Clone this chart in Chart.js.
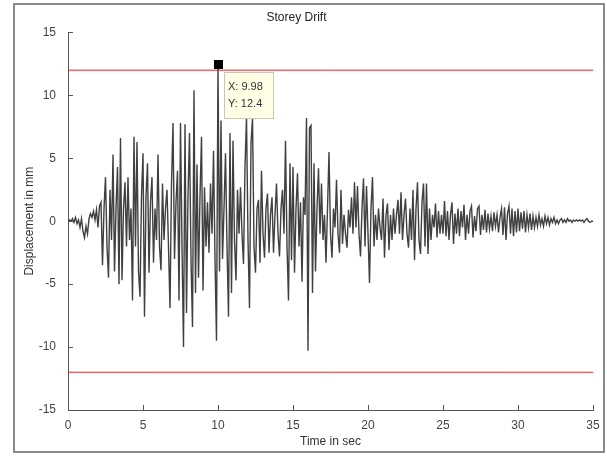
<!DOCTYPE html>
<html>
<head>
<meta charset="utf-8">
<script src="https://cdn.jsdelivr.net/npm/chart.js@4"></script>
<style>
  html, body { margin:0; padding:0; background:#fff; }
  #wrap { position:relative; width:607px; height:457px; }
</style>
</head>
<body>
<div id="wrap"><canvas id="chart" width="607" height="457"></canvas></div>
<script>
// data
const dt = 0.1; // sample step, sec
// displacement (mm), one row per second
const disp = [
  0, 0.1, 0, 0.2, -0.1, 0.3, -0.2, 0.1, -0.5, 0.2,
  -0.8, -1.3, -0.4, -1.0, 0.2, 0.6, 0.3, 0.8, 0.1, 0.9,
  -0.5, 1.2, 1.5, -3.5, 1.0, 3.5, -2.0, -4.5, 2.5, -1.5,
  5.3, -4.0, 1.0, 4.3, -5.0, 6.6, -4.7, 1.0, 3.1, -2.0,
  3.5, -1.5, 1.0, -6.3, 6.7, -2.0, 6.3, -4.0, -6.0, 2.0,
  5.4, -7.6, 2.0, 4.6, -4.1, 1.5, 3.5, -3.3, 1.0, -1.5,
  5.3, -2.0, -3.9, 3.0, -1.5, 1.0, 2.5, -2.0, -6.9, 3.0,
  7.8, -3.0, 1.5, 4.0, -6.3, 7.8, -2.0, -10.0, 7.7, -7.3,
  2.0, 7.0, -3.0, -8.4, 10.4, -5.7, 4.5, -4.5, 2.0, 6.7,
  -5.5, 2.7, -2.0, 1.5, -2.5, 3.0, -1.0, 5.6, -3.0, -9.5,
  12.4, -4.0, 8.0, -3.0, 1.0, 5.4, -2.0, -7.6, 7.0, -5.7,
  6.4, -1.5, -4.7, 2.5, -1.0, 2.7, -1.0, -3.4, 4.3, 8.3,
  -1.5, -6.9, 6.2, 8.2, -2.0, -4.1, 1.0, 1.7, -3.3, 4.0,
  -1.0, -2.9, 1.0, 2.2, -2.5, 0.5, 1.9, -2.5, 0.5, 3.0,
  -1.0, -2.8, 1.0, 2.5, -1.0, 6.4, -2.0, -6.3, 4.6, -3.1,
  4.3, -4.1, 1.0, 3.8, -2.0, 1.5, -4.8, 1.9, 0.5, 8.2,
  -10.3, 7.4, 7.6, -5.7, 4.6, -4.0, 1.0, 4.2, -1.0, 3.0,
  -1.5, 0.5, -3.3, 1.0, 5.5, -1.0, -2.9, 1.0, -0.5, 3.3,
  -1.0, -2.5, 2.5, -1.8, 0.5, -1.0, -2.1, 0.9, -0.5, 1.9,
  -1.0, 3.1, -0.5, 2.8, -1.0, -2.8, 1.0, 3.4, -2.0, 2.8,
  -1.0, -4.9, 1.0, 3.5, -2.0, 0.5, -1.5, 1.0, -0.5, -1.5,
  1.8, -2.9, 0.5, 1.4, -2.3, 0.5, -1.5, 1.0, -1.0, 0.5,
  1.7, -1.0, 2.3, -1.5, 0.5, 1.8, -1.0, -2.1, 1.0, -1.5,
  2.5, -3.1, 1.0, 3.1, -1.5, -2.6, 1.5, 3.0, -2.0, 3.0,
  -2.6, 1.0, -1.5, 0.5, -0.5, 1.4, -1.3, 0.8, -1.0, 0.5,
  -1.0, 1.6, -1.2, 0.8, -1.5, 0.5, 1.5, -1.8, 0.6, -1.0,
  1.0, -1.2, 0.8, -0.5, 1.3, -1.5, 0.5, -1.0, 0.8, 1.2,
  -1.3, 0.4, -0.8, 1.0, 1.2, -1.1, 0.5, -0.7, 0.9, -0.9,
  0.6, -0.6, 0.4, -0.8, 0.7, -0.4, 0.5, -0.9, 0.3, 1.0,
  -1.1, 1.1, -1.5, 0.6, 1.2, -1.0, 1.0, -1.2, 0.8, -0.9,
  1.0, -0.8, 0.7, -0.6, 0.8, -0.9, 0.5, -0.5, 0.6, -0.7,
  0.4, -0.5, 0.3, -0.4, 0.5, -0.3, 0.2, -0.4, 0.4, -0.2,
  0.3, -0.3, 0.2, -0.1, 0.3, -0.2, 0.1, -0.2, 0.1, 0.2,
  -0.1, 0.1, -0.1, 0.2, 0, 0.1, -0.1, 0.1, 0, 0.1,
  0, 0.1, 0, 0.1, -0.1, 0.1, 0.2, 0, -0.1, 0,
  0
];
const limitX = [0, 35];
const limitUp = [12, 12];
const limitDown = [-12, -12];
const tipX = 9.98, tipY = 12.4;
const xTicks = [0, 5, 10, 15, 20, 25, 30, 35];
const yTicks = [-15, -10, -5, 0, 5, 10, 15];

const FONT = "'Liberation Sans', Arial, sans-serif";

// MATLAB style ticks pointing into the axes + figure frame + data tip
const matlabPlugin = {
  id: 'matlab',
  afterDraw(chart){
    const ctx = chart.ctx, xs = chart.scales.x, ys = chart.scales.y;
    const a = chart.chartArea;
    ctx.save();
    ctx.strokeStyle = '#555';
    ctx.lineWidth = 1;
    ctx.beginPath();
    xTicks.forEach(v=>{ const px = Math.round(xs.getPixelForValue(v))+0.5; ctx.moveTo(px, a.bottom); ctx.lineTo(px, a.bottom-5); });
    yTicks.forEach(v=>{ const py = Math.round(ys.getPixelForValue(v))+0.5; ctx.moveTo(a.left, py); ctx.lineTo(a.left+5, py); });
    ctx.stroke();

    // data tip
    const mx = xs.getPixelForValue(tipX), my = ys.getPixelForValue(tipY);
    ctx.fillStyle = '#000';
    ctx.fillRect(Math.round(mx)-4, Math.round(my)-5, 9, 9);
    const bx = Math.round(mx)+6, by = Math.round(my)+7;
    ctx.fillStyle = '#ffffe6';
    ctx.fillRect(bx, by, 49, 46);
    ctx.strokeStyle = '#c8c8b8';
    ctx.strokeRect(bx+0.5, by+0.5, 49, 46);
    ctx.fillStyle = '#333';
    ctx.font = '11px ' + FONT;
    ctx.textBaseline = 'middle';
    ctx.fillText('X: ' + tipX, bx+4, by+15);
    ctx.fillText('Y: ' + tipY, bx+4, by+32);

    // figure frame
    ctx.strokeStyle = '#8a8a8a';
    ctx.lineWidth = 2;
    ctx.strokeRect(14, 4, 590, 448);
    ctx.restore();
  }
};

function init(){
  const ctx = document.getElementById('chart').getContext('2d');
  new Chart(ctx, {
    type: 'line',
    data: {
      datasets: [
        { data: disp.map((v,i)=>({x: Math.round(i*dt*10)/10, y: v})), borderColor:'#404040', borderWidth:1.4, pointRadius:0, tension:0 },
        { data: limitX.map((x,i)=>({x, y: limitUp[i]})), borderColor:'#d03030', borderWidth:1, pointRadius:0 },
        { data: limitX.map((x,i)=>({x, y: limitDown[i]})), borderColor:'#d03030', borderWidth:1, pointRadius:0 }
      ]
    },
    options: {
      responsive: false,
      animation: false,
      events: [],
      layout: { padding: { left: 0, right: 14, top: 0, bottom: 5 } },
      plugins: {
        legend: { display: false },
        tooltip: { enabled: false },
        title: { display: true, text: 'Storey Drift', color:'#222', font:{ family: FONT, size: 12, weight: 'normal' }, padding:{ top: 10, bottom: 8 } }
      },
      scales: {
        x: {
          type: 'linear', min: 0, max: 35,
          afterBuildTicks: s => { s.ticks = xTicks.map(v=>({value:v})); },
          grid: { display: false },
          border: { display: true, color:'#555', width: 1 },
          ticks: { color:'#444', font:{ family: FONT, size: 12 }, padding: 0, maxRotation: 0 },
          title: { display: true, text: 'Time in sec', color:'#333', font:{ family: FONT, size: 12 }, padding:{ top: 0, bottom: 3 } },
          afterFit: s => { s.height = 42; }
        },
        y: {
          min: -15, max: 15,
          afterBuildTicks: s => { s.ticks = yTicks.map(v=>({value:v})); },
          grid: { display: false },
          border: { display: true, color:'#555', width: 1 },
          ticks: { color:'#444', font:{ family: FONT, size: 12 }, padding: 4 },
          title: { display: true, text: 'Displacement in mm', color:'#333', font:{ family: FONT, size: 12 }, padding:{ top: 22, bottom: 0 } },
          afterFit: s => { s.width = 68; }
        }
      }
    },
    plugins: [matlabPlugin]
  });
}

window.addEventListener('load', init);
</script>
</body>
</html>
